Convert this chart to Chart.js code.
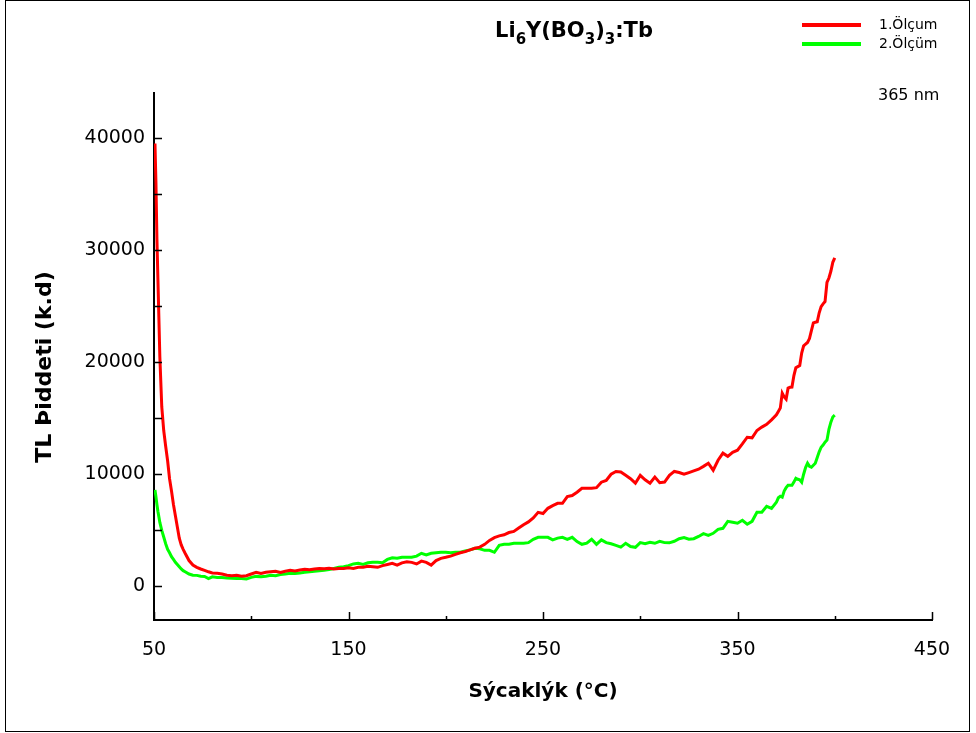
<!DOCTYPE html>
<html>
<head>
<meta charset="utf-8">
<script src="https://cdn.jsdelivr.net/npm/chart.js@4.4.0/dist/chart.umd.min.js"></script>
<style>
    html, body { margin: 0; padding: 0; background: #fff; }
    #wrap { width: 976px; height: 733px; }
</style>
</head>
<body>
<div id="wrap"><canvas id="tlChart" width="976" height="733"></canvas></div>
<script>
// Temperature points (°C)
const temps = [
    50.5, 51, 51.5, 52, 52.5, 53, 54, 55, 56, 57, 58, 59, 60, 61, 62, 63, 64, 65, 66, 68, 70, 72, 74, 76, 78, 80,
    82.5, 85, 87.5, 90, 92.5, 95, 97.5, 100, 102.5, 105,
    107.5, 110, 112.5, 115, 117.5, 120, 122.5, 125, 127.5, 130,
    132.5, 135, 137.5, 140, 142.5, 145, 147.5, 150, 152.5, 155,
    157.5, 160, 162.5, 165, 167.5, 170, 172.5, 175, 177.5, 180,
    182.5, 185, 187.5, 190, 192.5, 195, 197.5, 200, 202.5, 205,
    207.5, 210, 212.5, 215, 217.5, 220, 222.5, 225, 227.5, 230,
    232.5, 235, 237.5, 240, 242.5, 245, 247.5, 250, 252.5, 255,
    257.5, 260, 262.5, 265, 267.5, 270, 272.5, 275, 277.5, 280,
    282.5, 285, 287.5, 290, 292.5, 295, 297.5, 300, 302.5, 305,
    307.5, 310, 312.5, 315, 317.5, 320, 322.5, 325, 327.5, 330,
    332.5, 335, 337.5, 340, 342.5, 345, 347.5, 350, 352.5, 355,
    357.5, 360, 362.5, 365, 367.5, 370,
    371, 372, 373, 374, 375, 376, 377, 378, 379, 380,
    381, 382, 383, 384, 385, 386, 387, 388, 389, 390,
    391, 392, 393, 394, 395, 396, 397, 398, 399, 400
];

// 1.Ölçum (red)
const olcum1 = [
    39500, 36000, 31000, 27500, 24000, 20500, 16000, 13900, 12500, 11200, 9600, 8500, 7300, 6300, 5300, 4300, 3700, 3300, 2950, 2300, 1900, 1700, 1550, 1430, 1300, 1200,
    1160, 1100, 1000, 950, 980, 900, 950, 1100, 1250, 1150,
    1250, 1300, 1340, 1250, 1350, 1430, 1380, 1450, 1520, 1480,
    1550, 1600, 1580, 1620, 1560, 1600, 1600, 1650, 1600, 1700,
    1700, 1800, 1750, 1700, 1850, 1950, 2050, 1900, 2100, 2200,
    2140, 2000, 2250, 2140, 1900, 2300, 2500, 2590, 2700, 2850,
    3000, 3100, 3250, 3400, 3500, 3750, 4100, 4350, 4500, 4600,
    4800, 4900, 5200, 5500, 5750, 6100, 6600, 6500, 6960, 7200,
    7410, 7410, 8000, 8100, 8400, 8750, 8750, 8750, 8800, 9290,
    9450, 10000, 10250, 10200, 9900, 9600, 9200, 9900, 9500, 9200,
    9750, 9250, 9300, 9900, 10250, 10150, 10000, 10150, 10300, 10450,
    10700, 10980, 10360, 11250, 11880, 11600, 11960, 12140, 12700, 13300,
    13250, 13900, 14200, 14450, 14850, 15300,
    15600, 15900, 17230, 16900, 16700, 17680, 17750, 17770, 18800, 19500,
    19600, 19700, 20800, 21450, 21600, 21750, 22100, 22800, 23500, 23550,
    23600, 24400, 24950, 25200, 25400, 27100, 27500, 28100, 28900, 29300
];

// 2.Ölçüm (green)
const olcum2 = [
    8600, 8000, 7300, 6700, 6200, 5700, 5000, 4400, 3800, 3300, 3000, 2650, 2400, 2150, 1950, 1750, 1550, 1400, 1300, 1100, 1000, 980, 900, 880, 700, 850,
    800, 800, 750, 720, 700, 710, 650, 800, 890, 850,
    900, 980, 950, 1050, 1100, 1160, 1150, 1200, 1250, 1300,
    1350, 1400, 1430, 1500, 1600, 1700, 1750, 1850, 2000, 2050,
    1960, 2100, 2150, 2140, 2100, 2400, 2550, 2500, 2590, 2600,
    2590, 2700, 2950, 2800, 2950, 3000, 3050, 3040, 3000, 3050,
    3040, 3150, 3250, 3390, 3350, 3210, 3210, 3040, 3660, 3750,
    3750, 3840, 3840, 3850, 3900, 4200, 4375, 4375, 4375, 4150,
    4300, 4375, 4200, 4375, 4000, 3750, 3850, 4200, 3750, 4150,
    3900, 3800, 3660, 3500, 3840, 3550, 3480, 3900, 3800, 3930,
    3840, 4020, 3900, 3880, 4020, 4250, 4350, 4200, 4250, 4450,
    4700, 4550, 4730, 5090, 5180, 5800, 5710, 5625, 5890, 5540,
    5800, 6610, 6610, 7140, 6960, 7500,
    7900, 8040, 7950, 8500, 8800, 9020, 9020, 9020, 9300, 9640,
    9550, 9500, 9290, 10000, 10600, 10980, 10700, 10625, 10800, 10980,
    11500, 12000, 12410, 12600, 12860, 13040, 14000, 14640, 15100, 15270
];

// Axis ticks
const xMajorTicks = [50, 150, 250, 350, 450];
const xMinorTicks = [100, 200, 300, 400];
const yMajorTicks = [0, 10000, 20000, 30000, 40000];
const yMinorTicks = [5000, 15000, 25000, 35000];

Chart.defaults.font.family = "'DejaVu Sans', sans-serif";
Chart.defaults.color = '#000';

// Frame, title, legend, inward tick marks, y title
const decorations = {
    id: 'decorations',
    beforeDraw(chart) {
        const c = chart.ctx;
        c.save();
        c.fillStyle = '#fff';
        c.fillRect(0, 0, chart.width, chart.height);
        c.strokeStyle = '#000';
        c.lineWidth = 1;
        c.strokeRect(5.5, 0.5, 964, 731);
        c.restore();
    },
    afterDraw(chart) {
        const c = chart.ctx;
        const xs = chart.scales.x, ys = chart.scales.y;
        const area = chart.chartArea;
        c.save();

        // tick marks pointing into the plot
        c.strokeStyle = '#000';
        c.lineWidth = 1.5;
        c.beginPath();
        yMajorTicks.concat(yMinorTicks).forEach(v => {
            const py = Math.round(ys.getPixelForValue(v)) + 0.5;
            c.moveTo(area.left, py);
            c.lineTo(area.left + 8, py);
        });
        xMajorTicks.forEach(v => {
            const px = Math.round(xs.getPixelForValue(v)) + 0.5;
            c.moveTo(px, area.bottom);
            c.lineTo(px, area.bottom - 8);
        });
        xMinorTicks.forEach(v => {
            const px = Math.round(xs.getPixelForValue(v)) + 0.5;
            c.moveTo(px, area.bottom);
            c.lineTo(px, area.bottom - 4);
        });
        c.stroke();

        // title with subscripts
        const parts = [['Li', 0], ['6', 1], ['Y(BO', 0], ['3', 1], [')', 0], ['3', 1], [':Tb', 0]];
        const mainFont = "bold 21px 'DejaVu Sans'";
        const subFont = "bold 15px 'DejaVu Sans'";
        let total = 0;
        parts.forEach(p => { c.font = p[1] ? subFont : mainFont; total += c.measureText(p[0]).width; });
        let tx = 574 - total / 2;
        c.fillStyle = '#000';
        c.textBaseline = 'alphabetic';
        c.textAlign = 'left';
        parts.forEach(p => {
            c.font = p[1] ? subFont : mainFont;
            c.fillText(p[0], tx, p[1] ? 44 : 37);
            tx += c.measureText(p[0]).width;
        });

        // legend
        chart.data.datasets.forEach((ds, i) => {
            const ly = 25 + i * 19;
            c.strokeStyle = ds.borderColor;
            c.lineWidth = 4;
            c.beginPath();
            c.moveTo(802, ly);
            c.lineTo(861, ly);
            c.stroke();
            c.font = "14px 'DejaVu Sans'";
            c.fillStyle = '#000';
            c.textBaseline = 'middle';
            c.fillText(ds.label, 879, ly);
        });
        c.font = "16px 'DejaVu Sans'";
        c.fillText('365 nm', 878, 96);

        // y axis title
        c.translate(45, 367);
        c.rotate(-Math.PI / 2);
        c.font = "bold 22px 'DejaVu Sans'";
        c.textAlign = 'center';
        c.textBaseline = 'middle';
        c.fillText('TL Þiddeti (k.d)', 0, 0);
        c.restore();
    }
};

const ctx = document.getElementById('tlChart').getContext('2d');
const tlChart = new Chart(ctx, {
    type: 'line',
    data: {
        datasets: [
            {
                label: '1.Ölçum',
                data: temps.map((t, i) => ({ x: t, y: olcum1[i] })),
                borderColor: '#ff0000',
                borderWidth: 3,
                pointRadius: 0,
                tension: 0,
                fill: false
            },
            {
                label: '2.Ölçüm',
                data: temps.map((t, i) => ({ x: t, y: olcum2[i] })),
                borderColor: '#00ff00',
                borderWidth: 3,
                pointRadius: 0,
                tension: 0,
                fill: false
            }
        ]
    },
    options: {
        responsive: false,
        animation: false,
        layout: { padding: { top: 93, right: 44, bottom: 0, left: 0 } },
        plugins: {
            legend: { display: false },
            title: { display: false },
            tooltip: { enabled: false }
        },
        scales: {
            x: {
                type: 'linear',
                min: 50,
                max: 450,
                grid: { display: false, drawTicks: false },
                border: { display: true, color: '#000', width: 2 },
                ticks: {
                    padding: 19,
                    maxRotation: 0,
                    font: { size: 19 },
                    callback: v => String(v)
                },
                title: {
                    display: true,
                    text: 'Sýcaklýk (°C)',
                    font: { size: 20, weight: 'bold' },
                    padding: { top: 4, bottom: 29 }
                },
                afterBuildTicks: s => { s.ticks = xMajorTicks.map(v => ({ value: v })); },
                afterFit: s => { s.height = 113; }
            },
            y: {
                type: 'linear',
                min: -3000,
                max: 44000,
                grid: { display: false, drawTicks: false },
                border: { display: true, color: '#000', width: 2 },
                ticks: {
                    padding: 9,
                    font: { size: 19 },
                    callback: v => String(v)
                },
                afterBuildTicks: s => { s.ticks = yMajorTicks.map(v => ({ value: v })); },
                afterFit: s => { s.width = 154; }
            }
        }
    },
    plugins: [decorations]
});
</script>
</body>
</html>
